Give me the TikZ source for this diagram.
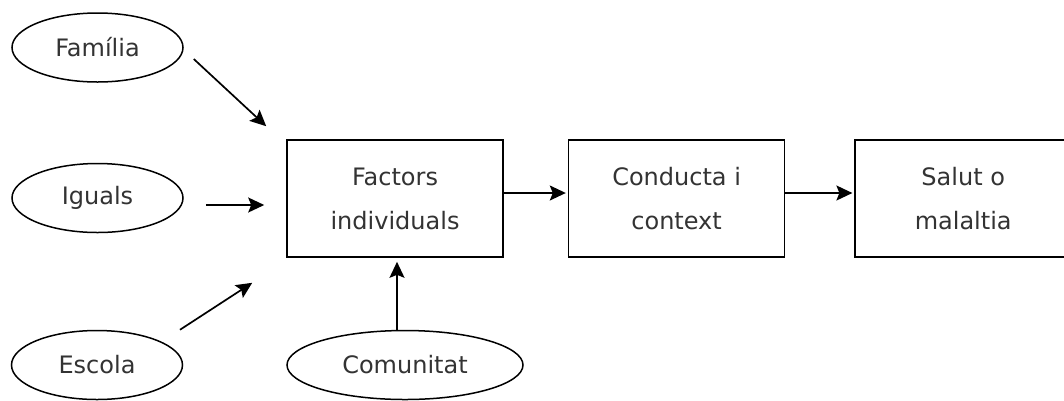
\documentclass[tikz,border=0pt]{standalone}
\usepackage{fontspec}
\setmainfont{DejaVu Sans}
\usetikzlibrary{positioning}
\usetikzlibrary{arrows.meta}
\usetikzlibrary{shapes.geometric}
\tikzset{factoroval/.style={ellipse,draw=black,fill=white,line width=1.5pt,
inner sep=0pt,minimum height=69pt, minimum width=171pt}}
\tikzset{factorbox/.style={rectangle,draw=black,fill=white,line width=1.6pt,
inner sep=2pt,minimum height=117pt, minimum width=216pt, align=center}}
\tikzset{factorarrow/.style={line width=1.7pt,-{Stealth[length=16pt,width=15pt,inset=3pt]}}}

\begin{document}
\begin{tikzpicture}[x=1pt,y=-1pt,font=\fontsize{24}{44}\selectfont,text=black!80]
        \useasboundingbox (0,0) rectangle (1064,400);
        \clip (0,0) rectangle (1064,400);

        \node[factorbox] (boxFactors) at (395, 198.5) {Factors\\individuals};
        \node[factorbox] (boxConducta) [right=64pt of boxFactors] {Conducta i\\context};
        \node[factorbox] (boxSalut) [right=69pt of boxConducta] {Salut o\\malaltia};

        \node[factoroval] (ovalFamilia) at (97.5, 47.5) {Família};
        \node[factoroval] (ovalIguals) at (97.5, 198) {Iguals};
        \node[factoroval] (ovalEscola) at (97, 365) {Escola};
        \node[factoroval, minimum width=236pt] (ovalComunitat) at (405, 365) {Comunitat};

        \coordinate (famOut) at ([xshift=10pt,yshift=-11.5pt]ovalFamilia.east);
        \coordinate (famIn) at ([xshift=-20pt,yshift=13pt]boxFactors.north west);
        \draw [factorarrow] (famOut) -- (famIn);

        \coordinate (iguOut) at ([xshift=22pt,yshift=-7pt]ovalIguals.east);
        \coordinate (iguIn) at ([xshift=-22pt,yshift=-6.5pt]boxFactors.west);
        \draw [factorarrow] (iguOut) -- (iguIn);

        \coordinate (escOut) at ([xshift=83pt]ovalEscola.north);
        \coordinate (escIn) at ([xshift=-34pt,yshift=-25pt]boxFactors.south west);
        \draw [factorarrow] (escOut) -- (escIn);

        \coordinate (comOut) at ([xshift=-8pt]ovalComunitat.north);
        \coordinate (comIn) at ([xshift=2pt,yshift=-4pt]boxFactors.south);
        \draw [factorarrow] (comOut) -- (comIn);

        \draw [factorarrow] ([yshift=5.5pt]boxFactors.east) -- ([xshift=-2pt,yshift=5.5pt]boxConducta.west);
        \draw [factorarrow] ([yshift=5.5pt]boxConducta.east) -- ([xshift=-2pt,yshift=5.5pt]boxSalut.west);

    \end{tikzpicture}
\end{document}
